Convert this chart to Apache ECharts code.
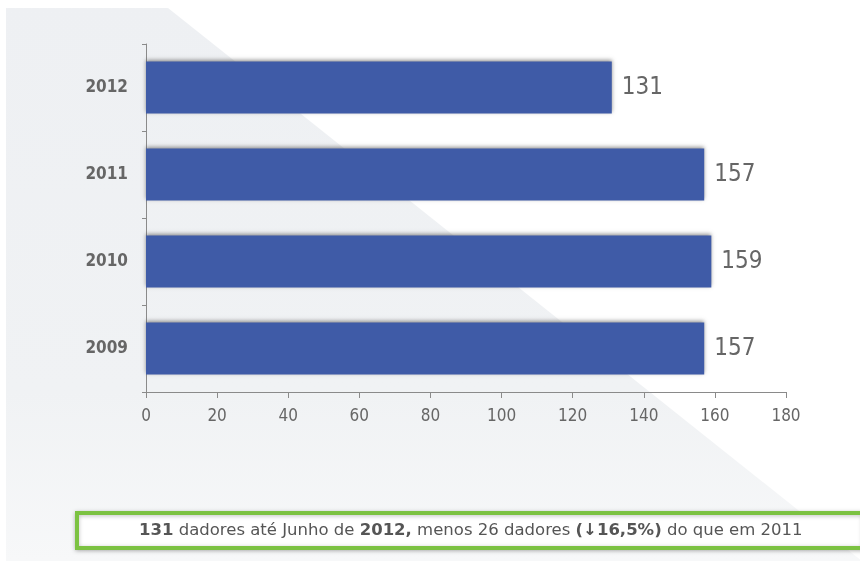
<!DOCTYPE html>
<html>
<head>
<meta charset="utf-8">
<script src="https://cdn.jsdelivr.net/npm/echarts@6/dist/echarts.min.js"></script>
<style>
  html, body { margin: 0; padding: 0; background: #ffffff; }
  #wrap { position: relative; width: 860px; height: 561px; overflow: hidden; background: #ffffff; }
  #bg { position: absolute; left: 0; top: 0; width: 860px; height: 561px;
        background: linear-gradient(180deg, #eef0f3 0%, #f0f2f4 70%, #f7f8f9 100%);
        clip-path: polygon(6px 8px, 168px 8px, 862px 561px, 6px 561px); }
  #chart { position: absolute; left: 0; top: 0; width: 860px; height: 561px; }
</style>
</head>
<body>
<div id="wrap">
  <div id="bg"></div>
  <div id="chart"></div>
</div>
<script>
const categories = ['2009', '2010', '2011', '2012'];
const donors = [157, 159, 157, 131];
const xMin = 0, xMax = 180, xStep = 20;
const noteText = '{b|131} dadores até Junho de {b|2012,} menos 26 dadores {b|(↓16,5%)} do que em 2011';

const narrow = '"Liberation Sans Narrow", "DejaVu Sans Condensed", "Roboto Condensed", Lato, sans-serif';

const chart = echarts.init(document.getElementById('chart'), null, { renderer: 'canvas' });
chart.setOption({
  backgroundColor: 'transparent',
  animation: false,
  title: {
    text: noteText,
    left: 77,
    top: 513,
    padding: [8, 62, 8, 62],
    backgroundColor: '#ffffff',
    borderColor: '#7cc242',
    borderWidth: 4,
    shadowColor: 'rgba(0,0,0,0.25)',
    shadowBlur: 4,
    shadowOffsetY: 1,
    textStyle: {
      fontFamily: 'DejaVu Sans',
      fontSize: 16.5,
      lineHeight: 19,
      fontWeight: 'normal',
      color: '#555555',
      rich: {
        b: { fontFamily: 'DejaVu Sans', fontSize: 16.5, lineHeight: 19, fontWeight: 'bold', color: '#555555' }
      }
    }
  },
  grid: { left: 146, right: 74, top: 44, bottom: 169, containLabel: false },
  xAxis: {
    type: 'value',
    min: xMin, max: xMax, interval: xStep,
    axisLine: { show: true, lineStyle: { color: '#8a8a8a', width: 1 } },
    axisTick: { show: true, length: 6, lineStyle: { color: '#8a8a8a' } },
    splitLine: { show: false },
    axisLabel: { margin: 16, fontFamily: narrow, fontSize: 17, fontWeight: 'normal', color: '#666666' }
  },
  yAxis: {
    type: 'category',
    data: categories,
    axisLine: { show: true, lineStyle: { color: '#8a8a8a', width: 1 } },
    axisTick: { show: true, length: 4, lineStyle: { color: '#8a8a8a' } },
    axisLabel: { margin: 18, fontFamily: narrow, fontSize: 17, fontWeight: 'bold', color: '#666666' }
  },
  series: [{
    type: 'bar',
    data: donors,
    barWidth: 52,
    itemStyle: {
      color: '#3f5ba7',
      shadowColor: 'rgba(60,60,60,0.55)',
      shadowBlur: 4,
      shadowOffsetY: -2
    },
    label: {
      show: true,
      position: 'right',
      distance: 10,
      fontFamily: narrow,
      fontSize: 24,
      fontWeight: 'normal',
      color: '#666666'
    }
  }]
});
</script>
</body>
</html>
